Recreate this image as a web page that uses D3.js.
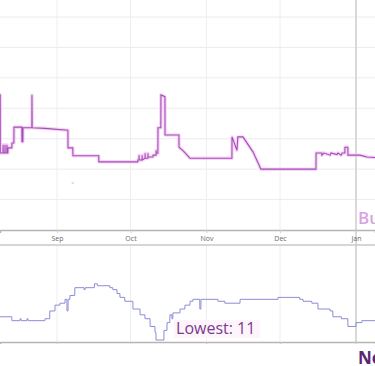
<!DOCTYPE html>
<html>
<head>
<meta charset="utf-8">
<script src="https://cdn.jsdelivr.net/npm/d3@7"></script>
<style>
  body { margin: 0; background: #fff; }
  svg { display: block; }
</style>
</head>
<body>
<svg id="chart" width="375" height="366"></svg>
<script>
// time window visible in the crop
var viewStart = "2023-08-08T18";
var viewEnd = "2024-01-08T18";
var monthTicks = ["2023-09-01T00", "2023-10-01T00", "2023-11-01T00", "2023-12-01T00", "2024-01-01T00"];
var nowDate = "2024-01-01T00";

// upper panel: buy box price
var priceDates = [
  "2023-08-08T00", "2023-08-08T20", "2023-08-08T21",
  "2023-08-09T23", "2023-08-10T00", "2023-08-10T02",
  "2023-08-10T18", "2023-08-10T19", "2023-08-10T21",
  "2023-08-11T13", "2023-08-11T14", "2023-08-11T16",
  "2023-08-11T23", "2023-08-12T00",
  "2023-08-13T14", "2023-08-13T15",
  "2023-08-14T10", "2023-08-14T11",
  "2023-08-17T16", "2023-08-17T17",
  "2023-08-18T02", "2023-08-18T03",
  "2023-08-21T18", "2023-08-21T19", "2023-08-21T21",
  "2023-08-27T02",
  "2023-09-05T11", "2023-09-05T12",
  "2023-09-07T11", "2023-09-07T12",
  "2023-09-18T01", "2023-09-18T02",
  "2023-10-03T23", "2023-10-04T00",
  "2023-10-04T11", "2023-10-04T12", "2023-10-04T13",
  "2023-10-05T17", "2023-10-05T18", "2023-10-05T19",
  "2023-10-06T22", "2023-10-06T23", "2023-10-07T00",
  "2023-10-08T02", "2023-10-08T03", "2023-10-08T04",
  "2023-10-10T04", "2023-10-10T05",
  "2023-10-11T10", "2023-10-11T11", "2023-10-11T12",
  "2023-10-12T04", "2023-10-12T05",
  "2023-10-13T09", "2023-10-13T10",
  "2023-10-15T01", "2023-10-15T02",
  "2023-10-20T18", "2023-10-20T19",
  "2023-10-22T12", "2023-10-25T06",
  "2023-11-11T09", "2023-11-11T10",
  "2023-11-13T10", "2023-11-13T19",
  "2023-11-15T21", "2023-11-20T00", "2023-11-23T05",
  "2023-12-15T16", "2023-12-15T17",
  "2023-12-18T01", "2023-12-18T02", "2023-12-18T22",
  "2023-12-21T10", "2023-12-21T20",
  "2023-12-24T05", "2023-12-24T15",
  "2023-12-25T22", "2023-12-26T08",
  "2023-12-27T11", "2023-12-27T12",
  "2023-12-28T16", "2023-12-28T17",
  "2024-01-02T14", "2024-01-05T12", "2024-01-09T12"
];
var priceValues = [
  22.2, 22.2, 12.65,
  12.65, 14.0, 12.65,
  12.65, 14.0, 12.65,
  12.65, 14.0, 12.65,
  12.65, 13.5,
  13.5, 14.3,
  14.3, 16.9,
  16.9, 14.5,
  14.5, 16.8,
  16.8, 22.2, 16.8,
  16.7,
  16.4, 13.5,
  13.5, 12.2,
  12.2, 11.2,
  11.2, 11.5,
  11.5, 12.3, 11.5,
  11.5, 12.3, 11.5,
  11.8, 12.6, 11.8,
  11.8, 12.6, 12.0,
  12.0, 12.3,
  12.3, 13.1, 12.6,
  12.6, 16.8,
  16.8, 22.2,
  21.9, 15.6,
  15.6, 13.6,
  13.0, 11.8,
  11.8, 15.3,
  13.1, 15.3,
  15.3, 12.8, 10.0,
  10.0, 12.65,
  12.65, 12.3, 12.65,
  12.3, 12.65,
  12.4, 12.65,
  12.3, 12.65,
  12.65, 13.6,
  13.6, 12.3,
  12.3, 12.0, 11.9
];
var priceGrid = [5, 10, 15, 20, 25, 30, 35];

// lower panel: new offer count
var offerDates = [
  "2023-08-08T00", "2023-08-13T14", "2023-08-13T15",
  "2023-08-16T22", "2023-08-16T23", "2023-08-17T08", "2023-08-17T09",
  "2023-08-19T18", "2023-08-19T19", "2023-08-20T04", "2023-08-20T05",
  "2023-08-27T02", "2023-08-27T03",
  "2023-08-29T01", "2023-08-29T02",
  "2023-08-31T04", "2023-08-31T05",
  "2023-09-02T04", "2023-09-02T05",
  "2023-09-04T06", "2023-09-04T07",
  "2023-09-05T01", "2023-09-05T02", "2023-09-05T12", "2023-09-05T13",
  "2023-09-06T06", "2023-09-06T07",
  "2023-09-08T06", "2023-09-08T07",
  "2023-09-12T00", "2023-09-12T01", "2023-09-12T12", "2023-09-12T13",
  "2023-09-16T06", "2023-09-16T07",
  "2023-09-17T11", "2023-09-17T12",
  "2023-09-22T13", "2023-09-22T14",
  "2023-09-23T18", "2023-09-23T19",
  "2023-09-25T11", "2023-09-25T12",
  "2023-09-26T16", "2023-09-26T17",
  "2023-09-28T16", "2023-09-28T17",
  "2023-10-01T23", "2023-10-02T00",
  "2023-10-04T21", "2023-10-04T22",
  "2023-10-06T21", "2023-10-06T22",
  "2023-10-08T23", "2023-10-09T00",
  "2023-10-10T23", "2023-10-11T00",
  "2023-10-11T09", "2023-10-11T10",
  "2023-10-14T15", "2023-10-14T16",
  "2023-10-15T21", "2023-10-15T22",
  "2023-10-17T01", "2023-10-17T02",
  "2023-10-17T21", "2023-10-17T22",
  "2023-10-18T06", "2023-10-18T07",
  "2023-10-21T04", "2023-10-21T05",
  "2023-10-23T04", "2023-10-23T05",
  "2023-10-25T06", "2023-10-25T07",
  "2023-10-26T11", "2023-10-26T12",
  "2023-10-29T06", "2023-10-29T07", "2023-10-29T17", "2023-10-29T18",
  "2023-11-05T16", "2023-11-05T17",
  "2023-11-08T11", "2023-11-08T12",
  "2023-11-14T16", "2023-11-14T17",
  "2023-11-30T04", "2023-11-30T05",
  "2023-12-09T01", "2023-12-09T02",
  "2023-12-10T09", "2023-12-10T10",
  "2023-12-13T23", "2023-12-14T00",
  "2023-12-16T11", "2023-12-16T12",
  "2023-12-21T09", "2023-12-21T10",
  "2023-12-22T13", "2023-12-22T14",
  "2023-12-26T00", "2023-12-26T01",
  "2023-12-28T16", "2023-12-28T17",
  "2023-12-31T23", "2024-01-01T00",
  "2024-01-03T09", "2024-01-03T10",
  "2024-01-09T12"
];
var offerValues = [
  23, 23, 21,
  21, 22, 22, 21,
  21, 22, 22, 21,
  21, 22,
  22, 26,
  26, 29,
  29, 30,
  30, 32,
  32, 26, 26, 32,
  32, 34,
  34, 38,
  38, 37, 37, 38,
  38, 40,
  40, 39,
  39, 38,
  38, 37,
  37, 35,
  35, 33,
  33, 31,
  31, 27,
  27, 24,
  24, 22,
  22, 18,
  18, 15,
  15, 11,
  11, 16,
  16, 20,
  20, 24,
  24, 22,
  22, 25,
  25, 27,
  27, 29,
  29, 31,
  31, 32,
  32, 27, 27, 32,
  32, 31,
  31, 30,
  30, 32,
  32, 33,
  33, 32,
  32, 31,
  31, 30,
  30, 27,
  27, 26,
  26, 23,
  23, 22,
  22, 18,
  18, 20,
  20, 21,
  21
];
var offerDomain = [10, 60];
var lowestLabelAt = "2023-10-19T14";

var parse = d3.timeParse("%Y-%m-%dT%H");
var fmtMonth = d3.timeFormat("%b");

var price = priceDates.map(function(d, i){ return { date: parse(d), value: priceValues[i] }; });
var offers = offerDates.map(function(d, i){ return { date: parse(d), value: offerValues[i] }; });

var width = 375;
var svg = d3.select("#chart");

var x = d3.scaleTime()
  .domain([parse(viewStart), parse(viewEnd)])
  .range([0, width]);

var top1 = 17, bottom1 = 230;
var top2 = 245, bottom2 = 342;

var yPrice = d3.scaleLinear().domain([0, 35]).range([bottom1, top1]);
var yOffer = d3.scaleLinear().domain(offerDomain).range([bottom2, top2]);

var ticks = monthTicks.map(parse);

// horizontal grid, upper panel
svg.append("g").selectAll("line")
  .data(priceGrid)
  .enter().append("line")
  .attr("x1", 0).attr("x2", width)
  .attr("y1", function(d){ return yPrice(d); })
  .attr("y2", function(d){ return yPrice(d); })
  .attr("stroke", "#ececec")
  .attr("stroke-width", 1);

// vertical grid, both panels
[[0, bottom1], [top2, bottom2]].forEach(function(r){
  svg.append("g").selectAll("line")
    .data(ticks)
    .enter().append("line")
    .attr("x1", function(d){ return x(d); })
    .attr("x2", function(d){ return x(d); })
    .attr("y1", r[0]).attr("y2", r[1])
    .attr("stroke", "#eeeeee")
    .attr("stroke-width", 1);
});

// "now" marker
svg.append("line")
  .attr("x1", x(parse(nowDate))).attr("x2", x(parse(nowDate)))
  .attr("y1", 0).attr("y2", bottom2)
  .attr("stroke", "#cfcfcf")
  .attr("stroke-width", 1.5);

// axis lines
var xAxis = d3.axisBottom(x).tickValues(ticks).tickFormat(fmtMonth).tickSize(3).tickPadding(3);
var axisG = svg.append("g")
  .attr("transform", "translate(0," + bottom1 + ")")
  .call(xAxis);
axisG.select(".domain").attr("stroke", "#b5b5b5").attr("stroke-width", 1.5);
axisG.selectAll(".tick line").attr("stroke", "#d0d0d0");
axisG.selectAll(".tick text")
  .attr("fill", "#6a6a6a")
  .style("font-family", "'Open Sans', sans-serif")
  .style("font-size", "7px");

svg.append("line")
  .attr("x1", 0).attr("x2", width)
  .attr("y1", top2).attr("y2", top2)
  .attr("stroke", "#c8c8c8").attr("stroke-width", 1.5);

var axis2 = svg.append("g")
  .attr("transform", "translate(0," + bottom2 + ")")
  .call(d3.axisBottom(x).tickValues(ticks).tickFormat("").tickSize(2));
axis2.select(".domain").attr("stroke", "#b5b5b5").attr("stroke-width", 1.5);
axis2.selectAll(".tick line").attr("stroke", "#c8c8c8");

// price line with soft halo
var priceLine = d3.line()
  .x(function(d){ return x(d.date); })
  .y(function(d){ return yPrice(d.value); });

svg.append("path")
  .datum(price)
  .attr("d", priceLine)
  .attr("fill", "none")
  .attr("stroke", "#f4c6f1")
  .attr("stroke-opacity", 0.75)
  .attr("stroke-width", 3.5)
  .attr("stroke-linejoin", "round");

svg.append("path")
  .datum(price)
  .attr("d", priceLine)
  .attr("fill", "none")
  .attr("stroke", "#a24db8")
  .attr("stroke-width", 1.1);

// tiny stray point
svg.append("rect")
  .attr("x", x(parse("2023-09-07T00"))).attr("y", yPrice(7.8))
  .attr("width", 2).attr("height", 1)
  .attr("fill", "#7fd6cf");

// offer count line
var offerLine = d3.line()
  .x(function(d){ return x(d.date); })
  .y(function(d){ return yOffer(d.value); });

svg.append("path")
  .datum(offers)
  .attr("d", offerLine)
  .attr("fill", "none")
  .attr("stroke", "#8c8cd8")
  .attr("stroke-width", 1);

// labels
var lowLabel = svg.append("g")
  .attr("transform", "translate(" + x(parse(lowestLabelAt)) + "," + (yOffer(11) - 6) + ")");
lowLabel.append("rect")
  .attr("x", -2).attr("y", -14)
  .attr("width", 86).attr("height", 18)
  .attr("fill", "#fdf4fc");
lowLabel.append("text")
  .attr("x", 0).attr("y", 0)
  .attr("fill", "#7b3a8e")
  .style("font-family", "'Open Sans', sans-serif")
  .style("font-size", "16px")
  .text("Lowest: 11");

svg.append("text")
  .attr("x", x(parse(nowDate)) + 2).attr("y", 224)
  .attr("fill", "#d9a2e2")
  .style("font-family", "'Open Sans', sans-serif")
  .style("font-size", "17px")
  .style("font-weight", "600")
  .text("Buy Box");

svg.append("text")
  .attr("x", x(parse(nowDate)) + 2).attr("y", 364)
  .attr("fill", "#5b2775")
  .style("font-family", "'Open Sans', sans-serif")
  .style("font-size", "17px")
  .style("font-weight", "700")
  .text("New");
</script>
</body>
</html>
